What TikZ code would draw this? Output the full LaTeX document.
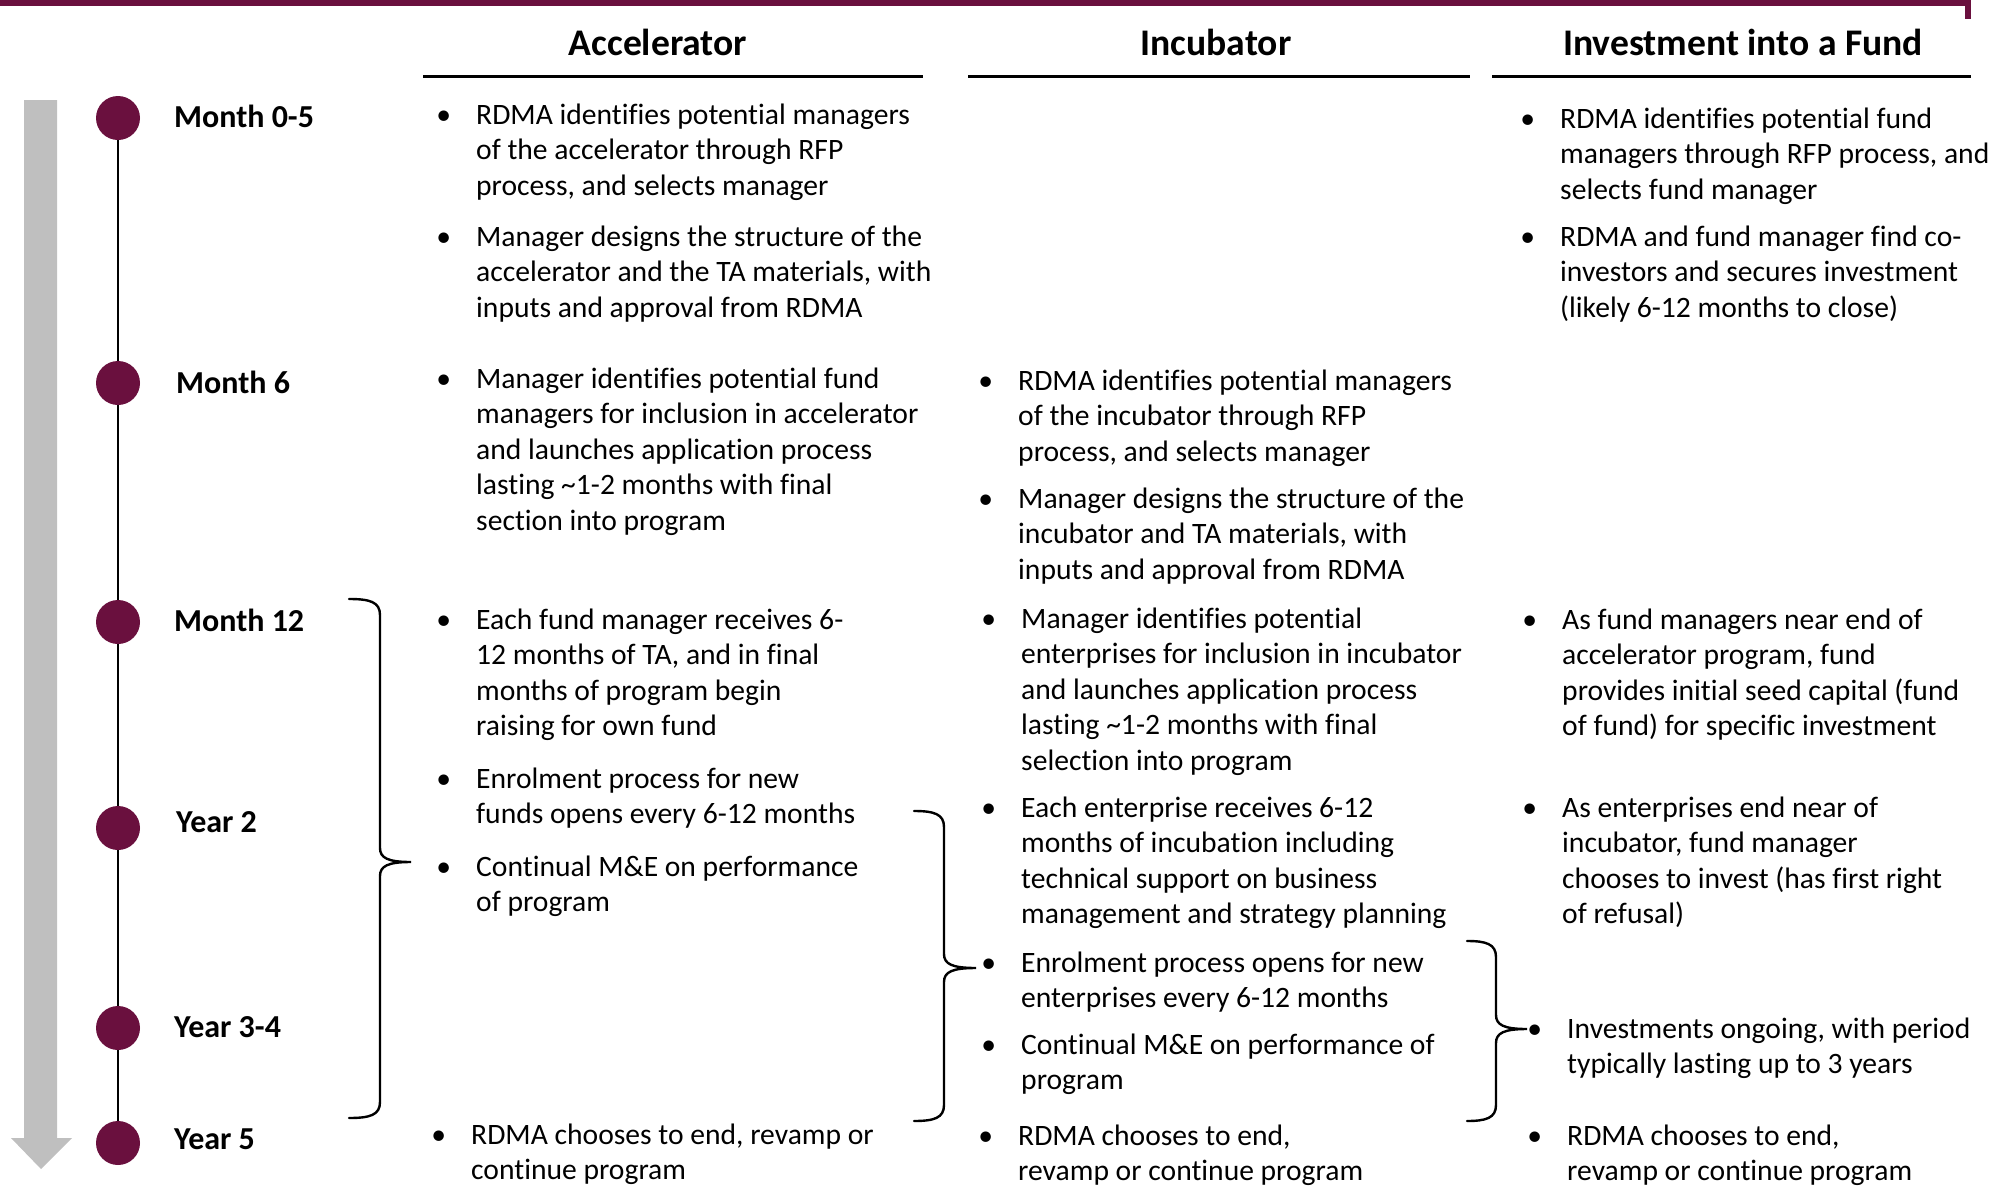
\documentclass[tikz,border=0pt]{standalone}
\usepackage{fontspec}
\setmainfont{Carlito}[Ligatures=NoCommon]
\usetikzlibrary{backgrounds}
\definecolor{maroon}{RGB}{106,16,62}
\definecolor{arrowgray}{RGB}{191,191,191}
\newcommand\bodyfont{\fontsize{29.6}{35.6}\selectfont}
\newcommand\headfont{\fontsize{37.6}{45}\selectfont\bfseries}
\newcommand\timefont{\fontsize{32}{38}\selectfont\bfseries}
\newcommand\blt{\llap{\textbullet\hspace{25pt}}}
\newcommand\lines[1]{\begin{tabular}[t]{@{}l@{}}#1\end{tabular}}
% curly brace: left ends, spine, tip, top, middle, bottom
\newcommand\sidebrace[6]{%
  \draw[brace] (#1,#4) .. controls (#2-10,#4) and (#2,#4+3) .. (#2,#4+16)
    -- (#2,#5-14) .. controls (#2,#5-4) and (#2+8,#5) .. (#3,#5)
    .. controls (#2+8,#5) and (#2,#5+4) .. (#2,#5+14)
    -- (#2,#6-16) .. controls (#2,#6-3) and (#2-10,#6) .. (#1,#6);}
\tikzset{
  item/.style={anchor=base west, inner sep=0pt, font=\bodyfont},
  head/.style={anchor=base, inner sep=0pt, font=\headfont},
  stamp/.style={anchor=base west, inner sep=0pt, font=\timefont},
  dot/.style={circle, fill=maroon, minimum size=44pt, inner sep=0pt},
  rule/.style={line width=3pt},
  brace/.style={line width=2.4pt, line cap=round},
}
\begin{document}
\begin{tikzpicture}[x=1pt,y=-1pt]
\useasboundingbox (0,0) rectangle (2011,1186);

% top frame line
\draw[maroon, line width=6pt] (-5,3) -- (1968,3) -- (1968,19);

% time arrow
\fill[arrowgray] (24,100) -- (57,100) -- (57,1138) -- (72,1138) -- (41,1169)
  -- (11,1138) -- (24,1138) -- cycle;

% column headings
\node[head] (hacc) at (658,55) {Accelerator};
\node[head] (hinc) at (1216,55) {Incubator};
\node[head] (hfund) at (1743,55) {Investment into a Fund};
\draw[rule] (423,76.5) -- (923,76.5);
\draw[rule] (968,76.5) -- (1470,76.5);
\draw[rule] (1492,76.5) -- (1971,76.5);

% timeline
\node[dot] (d1) at (118,118) {};
\node[dot] (d2) at (118,383) {};
\node[dot] (d3) at (118,622) {};
\node[dot] (d4) at (118,828) {};
\node[dot] (d5) at (118,1028) {};
\node[dot] (d6) at (118,1143) {};
\begin{scope}[on background layer]
\draw[line width=2pt] (d1.center) -- (d2.center) -- (d3.center) -- (d4.center) -- (d5.center) -- (d6.center);
\end{scope}

\node[stamp] (t1) at (174,127) {Month 0-5};
\node[stamp] (t2) at (176,393) {Month 6};
\node[stamp] (t3) at (174,631) {Month 12};
\node[stamp] (t4) at (176,832) {Year 2};
\node[stamp] (t5) at (174,1037) {Year 3-4};
\node[stamp] (t6) at (174,1149) {Year 5};

% Accelerator column
\node[item] (a1) at (476,124) {\lines{\blt RDMA identifies potential managers\\ of the accelerator through RFP\\ process, and selects manager}};
\node[item] (a2) at (476,246) {\lines{\blt Manager designs the structure of the\\ accelerator and the TA materials, with\\ inputs and approval from RDMA}};
\node[item] (a3) at (476,388) {\lines{\blt Manager identifies potential fund\\ managers for inclusion in accelerator\\ and launches application process\\ lasting \textasciitilde1-2 months with final\\ section into program}};
\node[item] (a4) at (476,629) {\lines{\blt Each fund manager receives 6-\\ 12 months of TA, and in final\\ months of program begin\\ raising for own fund}};
\node[item] (a5) at (476,788) {\lines{\blt Enrolment process for new\\ funds opens every 6-12 months}};
\node[item] (a6) at (476,876) {\lines{\blt Continual M\&E on performance\\ of program}};
\node[item] (a7) at (471,1144) {\lines{\blt RDMA chooses to end, revamp or\\ continue program}};

% Incubator column
\node[item] (i1) at (1018,390) {\lines{\blt RDMA identifies potential managers\\ of the incubator through RFP\\ process, and selects manager}};
\node[item] (i2) at (1018,508) {\lines{\blt Manager designs the structure of the\\ incubator and TA materials, with\\ inputs and approval from RDMA}};
\node[item] (i3) at (1021,628) {\lines{\blt Manager identifies potential\\ enterprises for inclusion in incubator\\ and launches application process\\ lasting \textasciitilde1-2 months with final\\ selection into program}};
\node[item] (i4) at (1021,817) {\lines{\blt Each enterprise receives 6-12\\ months of incubation including\\ technical support on business\\ management and strategy planning}};
\node[item] (i5) at (1021,972) {\lines{\blt Enrolment process opens for new\\ enterprises every 6-12 months}};
\node[item] (i6) at (1021,1054) {\lines{\blt Continual M\&E on performance of\\ program}};
\node[item] (i7) at (1018,1145) {\lines{\blt RDMA chooses to end,\\ revamp or continue program}};

% Fund column
\node[item] (f1) at (1560,128) {\lines{\blt RDMA identifies potential fund\\ managers through RFP process, and\\ selects fund manager}};
\node[item] (f2) at (1560,246) {\lines{\blt RDMA and fund manager find co-\\ investors and secures investment\\ (likely 6-12 months to close)}};
\node[item] (f3) at (1562,629) {\lines{\blt As fund managers near end of\\ accelerator program, fund\\ provides initial seed capital (fund\\ of fund) for specific investment}};
\node[item] (f4) at (1562,817) {\lines{\blt As enterprises end near of\\ incubator, fund manager\\ chooses to invest (has first right\\ of refusal)}};
\node[item] (f5) at (1567,1038) {\lines{\blt Investments ongoing, with period\\ typically lasting up to 3 years}};
\node[item] (f6) at (1567,1145) {\lines{\blt RDMA chooses to end,\\ revamp or continue program}};

% braces grouping the recurring phases
\sidebrace{349}{380}{411}{599}{862}{1118}
\sidebrace{914}{944}{976}{811}{968}{1121}
\sidebrace{1467}{1496}{1527}{941}{1029}{1121}
\end{tikzpicture}
\end{document}
